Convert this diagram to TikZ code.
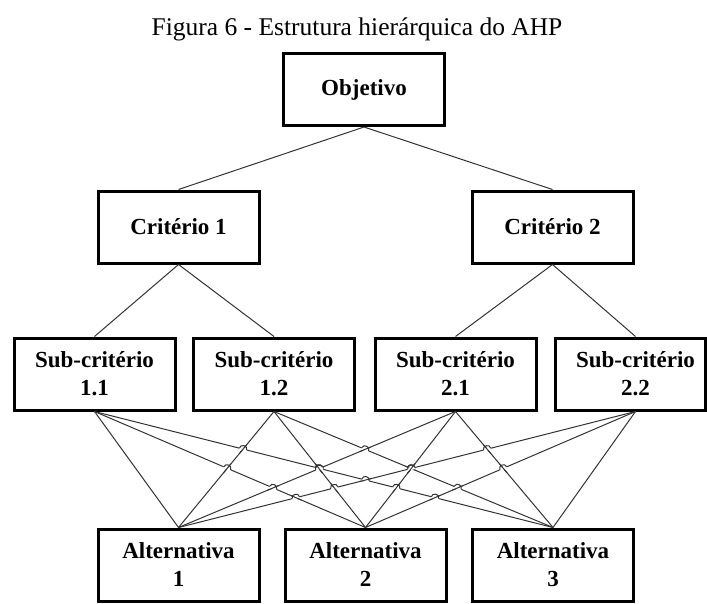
\documentclass[tikz,border=0pt]{standalone}
\usepackage{fontspec}
\setmainfont{Liberation Serif}
\usetikzlibrary{calc,intersections}

% A jump of one connector over another where they cross:
% #1,#2 ends of the jumping line (left end first), #3,#4 ends of the
% line it passes over, #5,#6 the names of both paths.
\newcommand\linehop[6]{%
  \path[name intersections={of=#5 and #6, by=hp}];
  \draw[white, line width=3pt] ($(hp)!3.8pt!(#1)$) -- ($(hp)!3.8pt!(#2)$);
  \draw[conn] ($(hp)!6pt!(#3)$) -- ($(hp)!6pt!(#4)$);
  \draw[conn] ($(hp)!3.8pt!(#1)$) to[bend left=90, looseness=1.6] ($(hp)!3.8pt!(#2)$);
}

\begin{document}
\begin{tikzpicture}[x=1pt, y=-1pt,
  box/.style={draw=black, line width=3pt, fill=white,
    minimum width=161pt, minimum height=72pt, inner sep=0pt,
    align=center, font=\fontsize{23}{28}\selectfont\bfseries},
  conn/.style={draw=black!80, line width=1pt},
  caption/.style={font=\fontsize{25.5}{30}\selectfont, inner sep=0pt}]

\useasboundingbox (0,0) rectangle (707,603);

\node[caption, anchor=base] (title) at (357,35) {Figura 6 - Estrutura hierárquica do AHP};

% boxes
\node[box] (O)  at (364,89.5)  {Objetivo};
\node[box] (C1) at (178.5,227) {Critério 1};
\node[box] (C2) at (552.5,227) {Critério 2};
\node[box] (S1) at (94.5,374)  {Sub-critério\\1.1};
\node[box] (S2) at (274,374)   {Sub-critério\\1.2};
\node[box] (S3) at (455.5,374) {Sub-critério\\2.1};
\node[box] (S4) at (635.5,374) {Sub-critério\\2.2};
\node[box] (A1) at (178.5,565) {Alternativa\\1};
\node[box] (A2) at (365.5,565) {Alternativa\\2};
\node[box] (A3) at (553,565)   {Alternativa\\3};

% right edge of the last sub-criterion box at the page border
\coordinate (redge) at (705.5,0);
\draw[line width=3pt] (S4.north -| redge) -- (S4.south -| redge);

% upper levels
\draw[conn] (O.south) -- (C1.north);
\draw[conn] (O.south) -- (C2.north);
\draw[conn] (C1.south) -- (S1.north);
\draw[conn] (C1.south) -- (S2.north);
\draw[conn] (C2.south) -- (S3.north);
\draw[conn] (C2.south) -- (S4.north);

% sub-criteria to alternatives
\draw[conn, name path=s1a1] (S1.south) -- (A1.north);
\draw[conn, name path=s1a2] (S1.south) -- (A2.north);
\draw[conn, name path=s1a3] (S1.south) -- (A3.north);
\draw[conn, name path=s2a1] (S2.south) -- (A1.north);
\draw[conn, name path=s2a2] (S2.south) -- (A2.north);
\draw[conn, name path=s2a3] (S2.south) -- (A3.north);
\draw[conn, name path=s3a1] (S3.south) -- (A1.north);
\draw[conn, name path=s3a2] (S3.south) -- (A2.north);
\draw[conn, name path=s3a3] (S3.south) -- (A3.north);
\draw[conn, name path=s4a1] (S4.south) -- (A1.north);
\draw[conn, name path=s4a2] (S4.south) -- (A2.north);
\draw[conn, name path=s4a3] (S4.south) -- (A3.north);

% line jumps at the crossings
\linehop{S1.south}{A2.north}{S2.south}{A1.north}{s1a2}{s2a1}
\linehop{S1.south}{A3.north}{S2.south}{A1.north}{s1a3}{s2a1}
\linehop{S1.south}{A3.north}{S2.south}{A2.north}{s1a3}{s2a2}
\linehop{S1.south}{A2.north}{S3.south}{A1.north}{s1a2}{s3a1}
\linehop{S1.south}{A3.north}{S3.south}{A1.north}{s1a3}{s3a1}
\linehop{S1.south}{A3.north}{S3.south}{A2.north}{s1a3}{s3a2}
\linehop{A1.north}{S4.south}{S1.south}{A2.north}{s4a1}{s1a2}
\linehop{S1.south}{A3.north}{S4.south}{A1.north}{s1a3}{s4a1}
\linehop{S1.south}{A3.north}{S4.south}{A2.north}{s1a3}{s4a2}
\linehop{A1.north}{S3.south}{S2.south}{A2.north}{s3a1}{s2a2}
\linehop{S2.south}{A3.north}{S3.south}{A1.north}{s2a3}{s3a1}
\linehop{S2.south}{A3.north}{S3.south}{A2.north}{s2a3}{s3a2}
\linehop{A1.north}{S4.south}{S2.south}{A2.north}{s4a1}{s2a2}
\linehop{A1.north}{S4.south}{S2.south}{A3.north}{s4a1}{s2a3}
\linehop{S2.south}{A3.north}{S4.south}{A2.north}{s2a3}{s4a2}
\linehop{A1.north}{S4.south}{S3.south}{A2.north}{s4a1}{s3a2}
\linehop{A1.north}{S4.south}{S3.south}{A3.north}{s4a1}{s3a3}
\linehop{A2.north}{S4.south}{S3.south}{A3.north}{s4a2}{s3a3}
\end{tikzpicture}
\end{document}
